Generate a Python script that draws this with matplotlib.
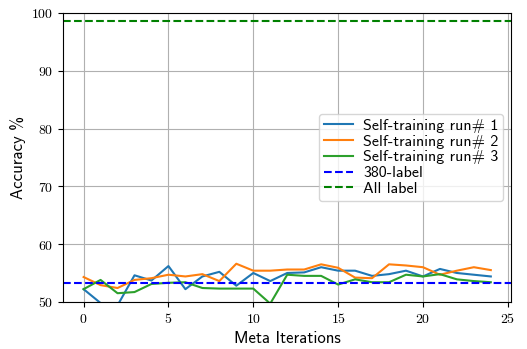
import matplotlib
matplotlib.use("Agg")
import matplotlib.pyplot as plt
from matplotlib.ticker import FuncFormatter

plt.rcParams['font.family'] = ['cmss10', 'DejaVu Sans']
plt.rcParams['axes.unicode_minus'] = False
plt.rcParams['mathtext.fontset'] = 'cm'

iterations = list(range(25))
run1 = [52.2, 49.8, 49.4, 54.6, 53.7, 56.2, 52.2, 54.4, 55.2, 52.8, 55.0, 53.6, 55.0, 55.1,
        56.0, 55.4, 55.4, 54.5, 54.8, 55.4, 54.4, 55.7, 55.0, 54.7, 54.4]
run2 = [54.3, 52.9, 52.4, 53.8, 54.1, 54.7, 54.4, 54.8, 53.6, 56.6, 55.4, 55.4, 55.6, 55.6,
        56.5, 55.9, 54.2, 54.1, 56.5, 56.3, 56.0, 54.7, 55.4, 56.0, 55.5]
run3 = [52.2, 53.8, 51.5, 51.7, 53.1, 53.3, 53.4, 52.4, 52.3, 52.3, 52.3, 49.7, 54.7, 54.5,
        54.5, 53.0, 53.9, 53.4, 53.4, 54.7, 54.4, 54.8, 53.9, 53.6, 53.4]
baseline_380 = 53.2
all_label = 98.6
series_labels = ['Self-training run# 1', 'Self-training run# 2', 'Self-training run# 3']

fig = plt.figure(figsize=(5.27, 3.49), dpi=100)
ax = fig.add_axes([0.12, 0.135, 0.850, 0.828])

for vals, lab in zip([run1, run2, run3], series_labels):
    ax.plot(iterations, vals, label=lab, linewidth=1.5)
ax.axhline(baseline_380, color='blue', linestyle='--', label='380-label', linewidth=1.5)
ax.axhline(all_label, color='green', linestyle='--', label='All label', linewidth=1.5)

ax.set_ylim(50, 100)
fmt = FuncFormatter(lambda v, p: r'$\mathrm{%d}$' % round(v))
ax.xaxis.set_major_formatter(fmt)
ax.yaxis.set_major_formatter(fmt)
ax.set_xlabel('Meta Iterations', fontsize=12)
ax.set_ylabel('Accuracy %', fontsize=12)
ax.tick_params(labelsize=10)
ax.grid(True)
ax.legend(loc='center right', fontsize=11.5, handlelength=1.8, labelspacing=0.1,
          borderpad=0.3, handletextpad=0.65)

fig.savefig('out.png', dpi=100)
